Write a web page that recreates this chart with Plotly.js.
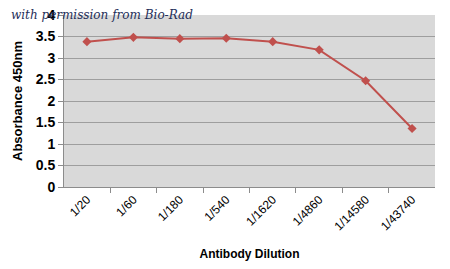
<!DOCTYPE html>
<html>
<head>
<script src="https://cdn.plot.ly/plotly-3.0.1.min.js"></script>
<style>html,body{margin:0;padding:0;background:#fff;}#chart{width:450px;height:269px;}</style>
</head>
<body>
<div id="chart"></div>
<script>
const dilutions = ["1/20","1/60","1/180","1/540","1/1620","1/4860","1/14580","1/43740"];
const absorbance = [3.38, 3.48, 3.45, 3.46, 3.38, 3.19, 2.47, 1.36];
const yTicks = [0, 0.5, 1, 1.5, 2, 2.5, 3, 3.5, 4];

const trace = {
  x: dilutions,
  y: absorbance,
  type: 'scatter',
  mode: 'lines+markers',
  line: {color: '#c0504d', width: 2},
  marker: {symbol: 'diamond', size: 7, color: '#c0504d'},
  hoverinfo: 'skip'
};

const layout = {
  width: 450, height: 269,
  margin: {l: 64, r: 15, t: 15, b: 82},
  paper_bgcolor: '#ffffff',
  plot_bgcolor: '#d9d9d9',
  showlegend: false,
  font: {family: 'Liberation Sans, Arial, sans-serif', color: '#000'},
  xaxis: {
    type: 'category',
    tickson: 'boundaries',
    ticks: 'outside', ticklen: 5, tickcolor: '#8c8c8c',
    tickangle: -45,
    tickfont: {size: 12, color: '#000'},
    showgrid: false,
    showline: true, linecolor: '#8c8c8c', linewidth: 1,
    title: {text: 'Antibody Dilution', font: {size: 12, weight: 'bold'}, standoff: 17},
    fixedrange: true
  },
  yaxis: {
    range: [0, 4],
    tickvals: yTicks,
    ticktext: yTicks.map(String),
    ticks: 'outside', ticklen: 5, tickcolor: '#8c8c8c',
    tickfont: {size: 14, weight: 'bold', color: '#000'},
    showgrid: true, gridcolor: '#9e9e9e', gridwidth: 1,
    zeroline: false,
    showline: true, linecolor: '#8c8c8c', linewidth: 1,
    title: {text: 'Absorbance 450nm', font: {size: 13, weight: 'bold'}, standoff: 10},
    fixedrange: true
  },
  annotations: [{
    text: 'with permission from Bio-Rad',
    xref: 'paper', yref: 'paper',
    x: -0.148, y: 1.0, xanchor: 'left', yanchor: 'middle',
    showarrow: false,
    font: {family: 'DejaVu Serif, serif', style: 'italic', size: 12, color: '#1f2f5a'}
  }]
};

Plotly.newPlot('chart', [trace], layout, {displayModeBar: false, staticPlot: true});
</script>
</body>
</html>
